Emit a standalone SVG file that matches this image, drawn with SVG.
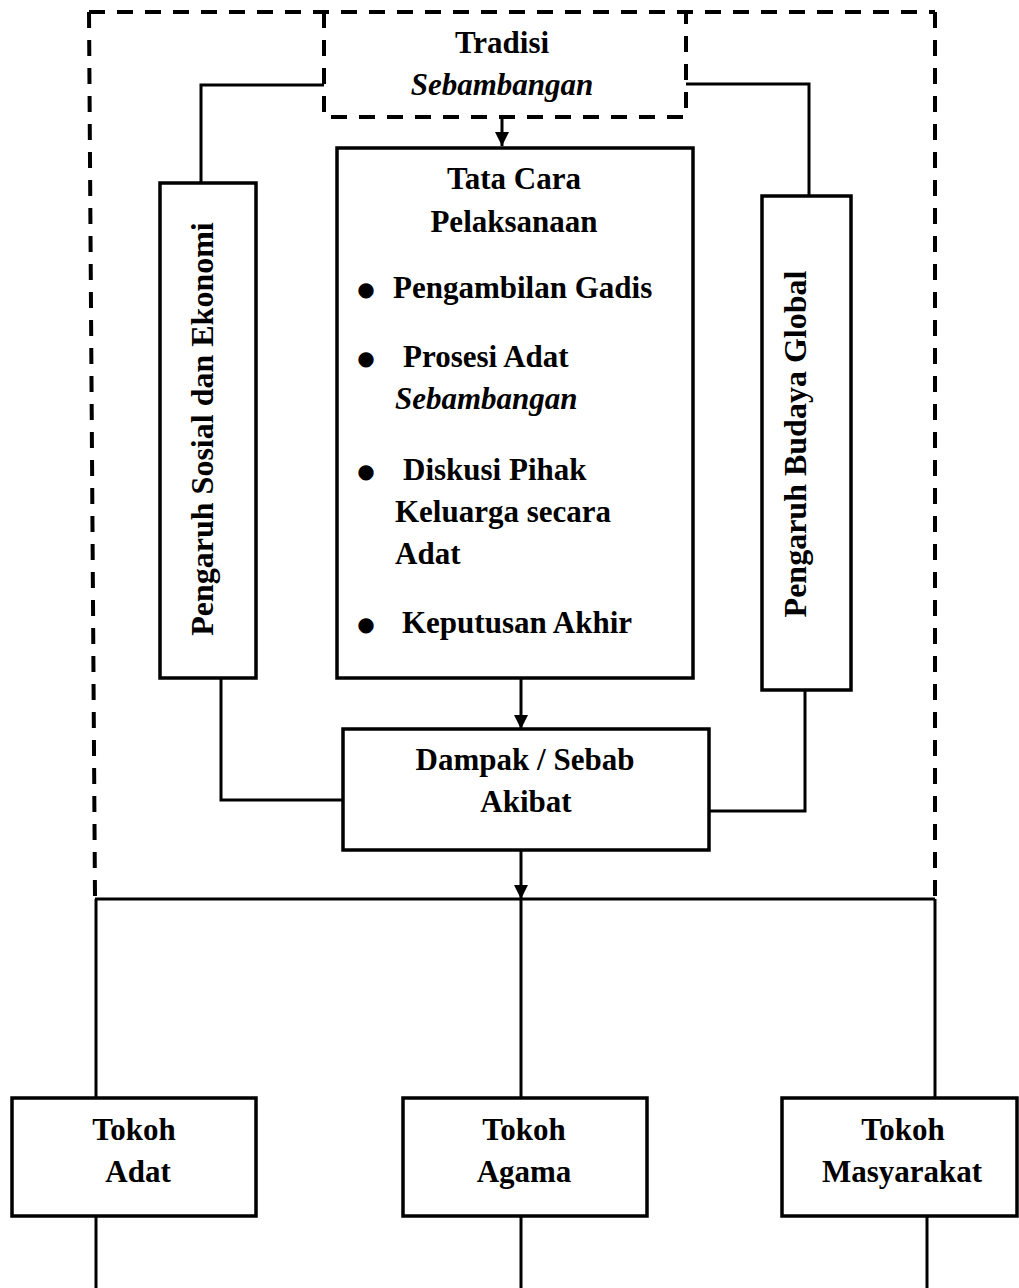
<svg xmlns="http://www.w3.org/2000/svg" width="1019" height="1288" viewBox="0 0 1019 1288">
<defs>
<style>
.box{fill:#fff;stroke:#000;stroke-width:3.5}
.dash{fill:none;stroke:#000;stroke-width:4;stroke-dasharray:16 12}
.ln{fill:none;stroke:#000;stroke-width:3}
.t{font-family:"Liberation Serif","Times New Roman",serif;font-weight:bold;font-size:31px;fill:#000}
.c{text-anchor:middle}
.i{font-style:italic}
.v{font-size:32px}
.b{font-family:"DejaVu Sans",sans-serif;font-size:20px;fill:#000;text-anchor:middle}
</style>
<marker id="ah" viewBox="0 0 14 15" refX="14" refY="7" markerWidth="14" markerHeight="15" markerUnits="userSpaceOnUse" orient="auto">
<path d="M0,0 L14,7 L0,14 Z" fill="#000"/>
</marker>
</defs>
<rect width="1019" height="1288" fill="#fff"/>

<g id="frame">
<path class="dash" d="M89,12 L935,12"/>
<path class="dash" d="M89,12 L95,898"/>
<path class="dash" d="M935,12 L935,898"/>
</g>

<g id="connectors">
<path class="ln" d="M324,85 L201,85 L201,183"/>
<path class="ln" d="M686,84 L809,84 L809,196"/>
<path class="ln" d="M221,678 L221,800 L343,800"/>
<path class="ln" d="M805,691 L805,811 L709,811"/>
<path class="ln" d="M502,117 L502,146" marker-end="url(#ah)"/>
<path class="ln" d="M521,678 L521,729" marker-end="url(#ah)"/>
<path class="ln" d="M521,850 L521,899" marker-end="url(#ah)"/>
<path class="ln" d="M95,899 L935,899"/>
<path class="ln" d="M96,899 L96,1098"/>
<path class="ln" d="M521,899 L521,1098"/>
<path class="ln" d="M935,899 L935,1098"/>
<path class="ln" d="M96,1216 L96,1288"/>
<path class="ln" d="M521,1216 L521,1288"/>
<path class="ln" d="M927,1216 L927,1288"/>
</g>

<g id="tradisi">
<path class="dash" d="M324,12 L324,117 L686,117 L686,12"/>
<text class="t c" x="502" y="53">Tradisi</text>
<text class="t c i" x="502" y="95">Sebambangan</text>
</g>

<g id="tata-cara">
<rect class="box" x="337" y="148" width="356" height="530"/>
<text class="t c" x="514" y="189">Tata Cara</text>
<text class="t c" x="514" y="232">Pelaksanaan</text>
<text class="b" x="366" y="296">●</text>
<text class="t" x="393" y="298">Pengambilan Gadis</text>
<text class="b" x="366" y="365">●</text>
<text class="t" x="403" y="367">Prosesi Adat</text>
<text class="t i" x="395" y="409">Sebambangan</text>
<text class="b" x="366" y="478">●</text>
<text class="t" x="403" y="480">Diskusi Pihak</text>
<text class="t" x="395" y="522">Keluarga secara</text>
<text class="t" x="395" y="564">Adat</text>
<text class="b" x="366" y="631">●</text>
<text class="t" x="402" y="633">Keputusan Akhir</text>
</g>

<g id="sosial-ekonomi">
<rect class="box" x="160" y="183" width="96" height="495"/>
<text class="t v c" transform="translate(213,429) rotate(-90)" x="0" y="0">Pengaruh Sosial dan Ekonomi</text>
</g>

<g id="budaya-global">
<rect class="box" x="762" y="196" width="89" height="494"/>
<text class="t v c" transform="translate(806,444) rotate(-90)" x="0" y="0">Pengaruh Budaya Global</text>
</g>

<g id="dampak">
<rect class="box" x="343" y="729" width="366" height="121"/>
<text class="t c" x="525" y="770">Dampak / Sebab</text>
<text class="t c" x="526" y="812">Akibat</text>
</g>

<g id="tokoh-adat">
<rect class="box" x="12" y="1098" width="244" height="118"/>
<text class="t c" x="134" y="1140">Tokoh</text>
<text class="t c" x="138" y="1182">Adat</text>
</g>

<g id="tokoh-agama">
<rect class="box" x="403" y="1098" width="244" height="118"/>
<text class="t c" x="524" y="1140">Tokoh</text>
<text class="t c" x="524" y="1182">Agama</text>
</g>

<g id="tokoh-masyarakat">
<rect class="box" x="782" y="1098" width="235" height="118"/>
<text class="t c" x="903" y="1140">Tokoh</text>
<text class="t c" x="902" y="1182">Masyarakat</text>
</g>
</svg>
